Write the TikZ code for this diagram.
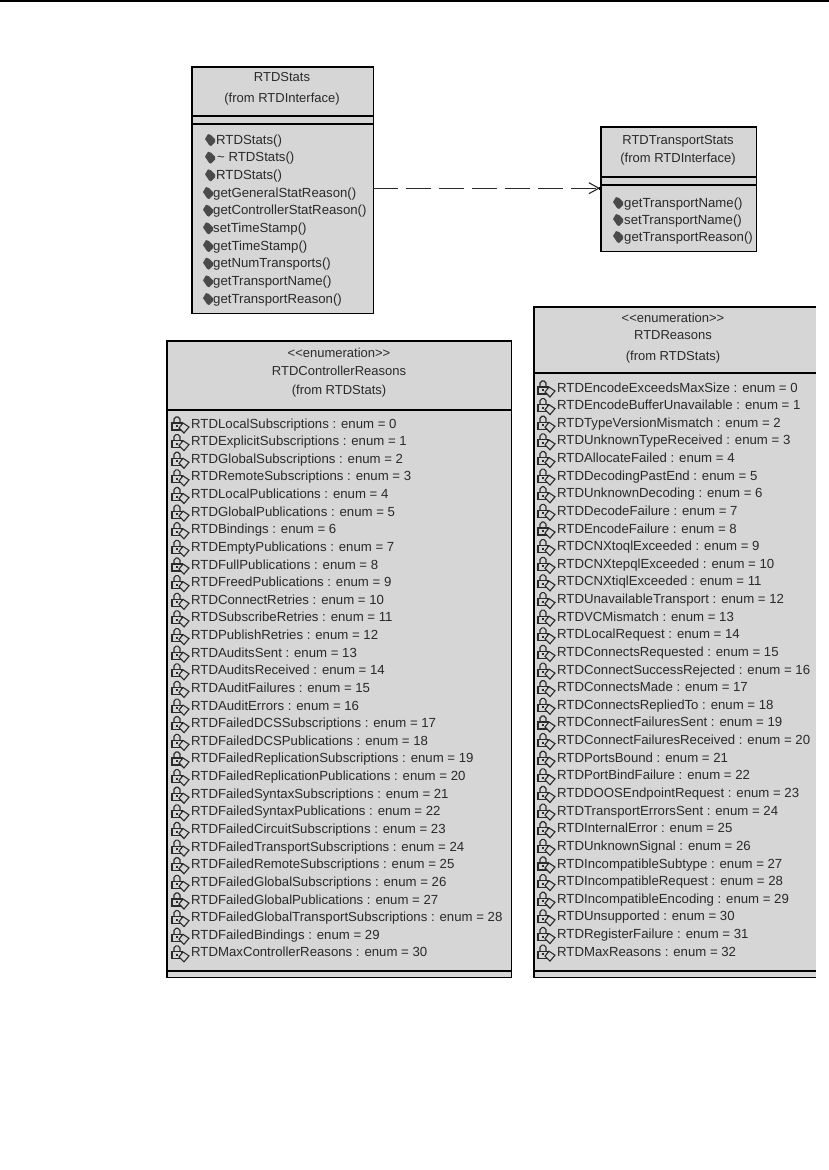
\documentclass[tikz,border=0pt]{standalone}
\usepackage{fontspec}
\setmainfont{Liberation Sans}
\usetikzlibrary{arrows.meta}
\definecolor{boxgray}{HTML}{D6D6D6}
\definecolor{inkgray}{HTML}{2A2A2A}
\tikzset{
  classbox/.style={fill=boxgray,anchor=north west,inner sep=0pt},
  titletext/.style={text=inkgray,font=\fontsize{13}{15}\selectfont,inner sep=0pt,text height=10pt,text depth=2pt},
  rowtext/.style={text=inkgray,font=\fontsize{13.2}{15}\selectfont,inner sep=0pt,anchor=west,text height=10pt,text depth=2pt},
  rule/.style={line width=1.4pt,draw=black},
  depend/.style={line width=1.1pt,draw=inkgray,dash pattern=on 25pt off 8pt,-{Straight Barb[length=10pt,width=11pt,line width=1.1pt]}},
  methodicon/.pic={
    \fill[inkgray!85] (-5,-1) -- (-2,-6) -- (1,-5) -- (5,-1) -- (5,2) -- (1,6) -- (-1,5) -- cycle;
  },
  lockicon/.pic={
    % padlock with a small diamond on it
    \draw[inkgray,line width=1.1pt] (-7,-1) rectangle (3,6);
    \draw[inkgray,line width=1.1pt] (-5,-1) -- (-5,-5) -- (-3,-7) -- (-1,-7) -- (1,-5) -- (1,-1);
    \fill[inkgray] (-3,1) rectangle (-1,3);
    \draw[inkgray,fill=boxgray,line width=1.1pt] (0,4) -- (4,-1) -- (10,3) -- (5,9) -- cycle;
  }
}
\begin{document}
\begin{tikzpicture}[x=1pt,y=-1pt]
  \useasboundingbox (0,0) rectangle (829,1170);
  \fill[white] (0,0) rectangle (829,1170);
  \draw[line width=2pt] (0,1) -- (829,1);
  % the four class boxes
  \node[classbox,minimum width=181pt,minimum height=246pt] (stats) at (192,67) {};
  \node[classbox,minimum width=155pt,minimum height=124pt] (transport) at (601,127) {};
  \node[classbox,minimum width=344pt,minimum height=636pt] (controller) at (167,341) {};
  \node[classbox,minimum width=282pt,minimum height=670pt] (reasons) at (534,307) {};
  \draw[rule] (stats.north west) rectangle (stats.south east);
  \draw[rule] (transport.north west) rectangle (transport.south east);
  \draw[rule] (controller.north west) rectangle (controller.south east);
  \draw[rule] (reasons.north east) -- (reasons.north west) -- (reasons.south west) -- (reasons.south east);
  % compartment lines
  \foreach \y in {116,124}
    \draw[rule] (192,\y) -- (373,\y);
  \foreach \y in {177,185}
    \draw[rule] (601,\y) -- (756,\y);
  \foreach \y in {410,971}
    \draw[rule] (167,\y) -- (511,\y);
  \foreach \y in {373,971}
    \draw[rule] (534,\y) -- (816,\y);
  % titles
  \node[titletext] (statsname) at (282,77) {RTDStats};
  \node[titletext] (statsfrom) at (282,98) {(from RTDInterface)};
  \node[titletext] (transportname) at (678,140) {RTDTransportStats};
  \node[titletext] (transportfrom) at (678,158) {(from RTDInterface)};
  \node[titletext] (controllerkind) at (339,353) {<{}<enumeration>{}>};
  \node[titletext] (controllername) at (339,371) {RTDControllerReasons};
  \node[titletext] (controllerfrom) at (339,390) {(from RTDStats)};
  \node[titletext] (reasonskind) at (673,318) {<{}<enumeration>{}>};
  \node[titletext] (reasonsname) at (673,335) {RTDReasons};
  \node[titletext] (reasonsfrom) at (673,356) {(from RTDStats)};
  % operations
  \foreach \c/\n/\t [count=\i from 0] in {
    210/216/RTDStats(),210/217/{\char126\ RTDStats()},210/216/RTDStats(),
    208/213/getGeneralStatReason(),208/213/getControllerStatReason(),
    208/213/setTimeStamp(),208/213/getTimeStamp(),208/213/getNumTransports(),
    208/213/getTransportName(),208/213/getTransportReason()}{
    \pic at (\c,140+\i*17.67) {methodicon};
    \node[rowtext] (statsop\i) at (\n,140+\i*17.67) {\t};
  }
  \foreach \t [count=\i from 0] in {
    getTransportName(),setTransportName(),getTransportReason()}{
    \pic at (618,203+\i*17) {methodicon};
    \node[rowtext] (transportop\i) at (624,203+\i*17) {\t};
  }
  % enum attributes
  \foreach \t [count=\i from 0] in {
    RTDLocalSubscriptions,RTDExplicitSubscriptions,RTDGlobalSubscriptions,
    RTDRemoteSubscriptions,RTDLocalPublications,RTDGlobalPublications,
    RTDBindings,RTDEmptyPublications,RTDFullPublications,RTDFreedPublications,
    RTDConnectRetries,RTDSubscribeRetries,RTDPublishRetries,RTDAuditsSent,
    RTDAuditsReceived,RTDAuditFailures,RTDAuditErrors,
    RTDFailedDCSSubscriptions,RTDFailedDCSPublications,
    RTDFailedReplicationSubscriptions,RTDFailedReplicationPublications,
    RTDFailedSyntaxSubscriptions,RTDFailedSyntaxPublications,
    RTDFailedCircuitSubscriptions,RTDFailedTransportSubscriptions,
    RTDFailedRemoteSubscriptions,RTDFailedGlobalSubscriptions,
    RTDFailedGlobalPublications,RTDFailedGlobalTransportSubscriptions,
    RTDFailedBindings,RTDMaxControllerReasons}{
    \pic at (179,424+\i*17.63) {lockicon};
    \node[rowtext] (controllerrow\i) at (191,424+\i*17.63) {\t\ : enum = \i};
  }
  \foreach \t [count=\i from 0] in {
    RTDEncodeExceedsMaxSize,RTDEncodeBufferUnavailable,RTDTypeVersionMismatch,
    RTDUnknownTypeReceived,RTDAllocateFailed,RTDDecodingPastEnd,
    RTDUnknownDecoding,RTDDecodeFailure,RTDEncodeFailure,RTDCNXtoqlExceeded,
    RTDCNXtepqlExceeded,RTDCNXtiqlExceeded,RTDUnavailableTransport,
    RTDVCMismatch,RTDLocalRequest,RTDConnectsRequested,
    RTDConnectSuccessRejected,RTDConnectsMade,RTDConnectsRepliedTo,
    RTDConnectFailuresSent,RTDConnectFailuresReceived,RTDPortsBound,
    RTDPortBindFailure,RTDDOOSEndpointRequest,RTDTransportErrorsSent,
    RTDInternalError,RTDUnknownSignal,RTDIncompatibleSubtype,
    RTDIncompatibleRequest,RTDIncompatibleEncoding,RTDUnsupported,
    RTDRegisterFailure,RTDMaxReasons}{
    \pic at (545,388+\i*17.63) {lockicon};
    \node[rowtext] (reasonsrow\i) at (557,388+\i*17.63) {\t\ : enum = \i};
  }
  % dependency
  \draw[depend] ([yshift=2pt]stats.east) -- ([yshift=1pt,xshift=-1pt]transport.west);
  \fill[black] ([xshift=-2pt,yshift=2.5pt]transport.west) rectangle ([xshift=1pt,yshift=-0.5pt]transport.west);
\end{tikzpicture}
\end{document}
